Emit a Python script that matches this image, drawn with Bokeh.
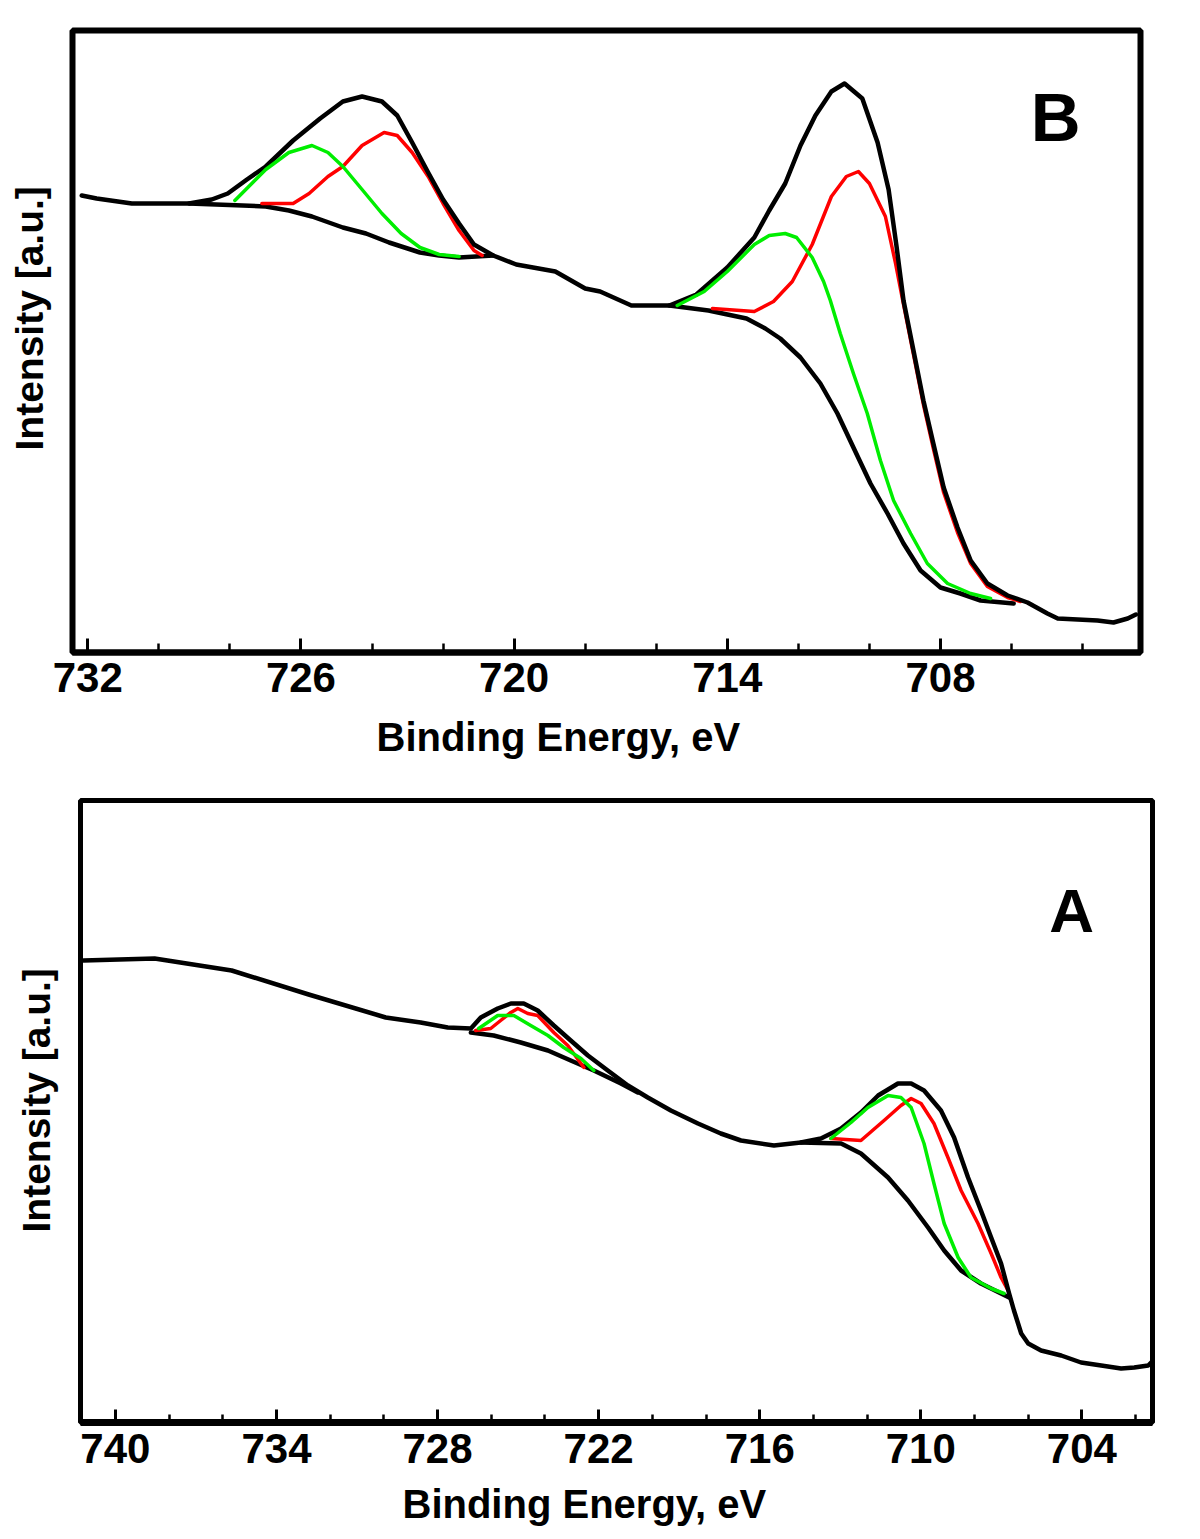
from bokeh.plotting import figure
from bokeh.models import Range1d, FixedTicker, Label, LinearAxis, Title
from bokeh.embed import file_html
from bokeh.resources import INLINE

# ---------------- Panel B data (binding energy eV, intensity a.u.) ----------------
B_total_eV = [732.17, 731.75, 730.76, 729.15, 728.51, 728.06, 727.52, 726.99, 726.22, 725.46,
              724.82, 724.28, 723.72, 723.29, 722.87, 722.42, 722.00, 721.55, 721.13, 720.59,
              719.94, 718.84, 718.00, 717.58, 716.70, 715.63, 714.87, 714.00, 713.24, 712.82,
              712.37, 711.94, 711.52, 711.07, 710.70, 710.20, 709.77, 709.46, 709.24, 709.04,
              708.76, 708.48, 708.20, 707.91, 707.52, 707.15, 706.68, 706.11, 705.55, 704.99,
              704.70, 703.58, 703.13, 702.73, 702.50]
B_total_I = [457, 454, 449, 449, 453, 459, 473, 486, 512, 534,
             551, 556, 551, 537, 510, 480, 453, 429, 408, 397,
             388, 381, 364, 361, 347, 347, 358, 385, 415, 442,
             469, 507, 537, 561, 569, 554, 510, 463, 407, 352,
             302, 252, 209, 165, 125, 92, 69, 57, 50, 39,
             34, 32, 30, 34, 38]

B_bg1_eV = [729.15, 726.99, 726.34, 725.69, 724.82, 724.17, 723.52, 722.65, 722.11, 721.55, 720.59]
B_bg1_I = [449, 446, 442, 436, 425, 419, 410, 400, 397, 395, 397]

B_bg2_eV = [715.63, 714.53, 713.46, 712.93, 712.51, 711.94, 711.38, 710.90, 710.45, 709.97,
            709.49, 709.04, 708.56, 708.00, 707.44, 706.87, 705.94]
B_bg2_I = [347, 342, 334, 324, 314, 295, 269, 239, 205, 169,
           139, 109, 82, 65, 59, 52, 49]

B_red1_eV = [727.10, 726.22, 725.77, 725.24, 724.82, 724.28, 723.66, 723.29, 722.87, 722.42,
             722.00, 721.55, 721.13, 720.90]
B_red1_I = [449, 449, 459, 476, 486, 507, 520, 517, 500, 476, 449, 422, 402, 397]

B_green1_eV = [727.86, 727.44, 726.99, 726.34, 725.69, 725.24, 724.82, 724.28, 723.72, 723.18,
               722.65, 722.11, 721.55]
B_green1_I = [452, 467, 483, 500, 507, 500, 486, 463, 439, 419, 405, 398, 396]

B_red2_eV = [714.42, 713.24, 712.70, 712.17, 711.61, 711.07, 710.65, 710.31, 710.00, 709.55,
             709.27, 709.04, 708.76, 708.48, 708.20, 707.91, 707.52, 707.15, 706.68, 706.11, 705.75]
B_red2_I = [344, 341, 351, 371, 408, 456, 476, 481, 469, 436,
            390, 348, 298, 248, 204, 160, 120, 89, 66, 55, 51]

B_green2_eV = [715.41, 714.65, 714.00, 713.24, 712.82, 712.37, 712.05, 711.61, 711.29, 711.10,
               710.82, 710.45, 710.06, 709.69, 709.32, 708.84, 708.37, 707.80, 707.15, 706.59]
B_green2_I = [347, 361, 381, 408, 417, 419, 415, 395, 371, 352,
              319, 279, 239, 192, 152, 119, 89, 69, 59, 54]

B_major_ticks = [732, 726, 720, 714, 708]
B_minor_ticks = [732, 730, 728, 726, 724, 722, 720, 718, 716, 714, 712, 710, 708, 706, 704]

# ---------------- Panel A data ----------------
A_total_eV = [741.19, 738.54, 735.67, 732.80, 729.93, 728.63, 727.62, 726.76, 726.39, 725.76,
              725.27, 724.79, 724.27, 723.67, 723.04, 722.40, 721.66, 720.91, 720.17, 719.31,
              718.30, 717.45, 716.70, 715.47, 714.47, 713.72, 712.97, 712.23, 711.59, 710.85,
              710.36, 709.88, 709.25, 708.76, 708.24, 707.76, 707.38, 707.01, 706.71, 706.53,
              706.26, 706.00, 705.52, 704.77, 704.03, 703.28, 702.54, 702.05, 701.53, 701.42]
A_total_I = [462, 464, 452, 428, 405, 400, 395, 394, 405, 414,
             419, 419, 412, 397, 382, 367, 352, 337, 325, 312,
             299, 289, 282, 277, 280, 284, 294, 310, 327, 339,
             339, 332, 312, 285, 245, 212, 185, 159, 129, 112,
             89, 79, 72, 67, 60, 57, 54, 55, 57, 60]

A_bg1_eV = [726.76, 725.91, 724.90, 723.89, 723.04, 722.18, 721.17, 720.54]
A_bg1_I = [390, 387, 380, 372, 362, 352, 339, 330]

A_bg2_eV = [714.47, 712.97, 712.23, 711.22, 710.48, 709.73, 709.13, 708.50, 707.76, 707.01, 706.71]
A_bg2_I = [280, 279, 269, 245, 222, 195, 172, 152, 139, 129, 125]

A_green1_eV = [726.47, 725.76, 725.16, 724.53, 723.89, 723.30, 722.66, 722.18]
A_green1_I = [394, 407, 407, 397, 387, 375, 364, 352]

A_red1_eV = [726.58, 726.02, 725.65, 725.27, 725.01, 724.64, 724.27, 723.67, 723.15, 722.55]
A_red1_I = [392, 394, 402, 410, 414, 409, 407, 390, 377, 355]

A_green2_eV = [713.35, 712.60, 711.97, 711.22, 710.74, 710.36, 709.88, 709.51, 709.13, 708.61,
               708.13, 707.38, 706.90]
A_green2_I = [284, 300, 315, 327, 325, 315, 279, 239, 199, 165, 145, 134, 129]

A_red2_eV = [713.35, 712.23, 711.37, 710.74, 710.36, 709.99, 709.51, 708.99, 708.50, 707.87,
             707.38, 707.01, 706.75]
A_red2_I = [284, 282, 302, 317, 324, 319, 299, 265, 232, 199, 169, 145, 132]

A_major_ticks = [740, 734, 728, 722, 716, 710, 704]
A_minor_ticks = [740, 738, 736, 734, 732, 730, 728, 726, 724, 722, 720, 718, 716, 714, 712,
                 710, 708, 706, 704, 702]

X_LABEL = "Binding Energy, eV"
Y_LABEL = "Intensity [a.u.]"

FONT = "Liberation Sans"
BLACK = "#000000"
RED = "#ff0000"
GREEN = "#00ee00"


def spacer_axis(ax, gap, at):
    """An axis that draws nothing and only reserves `gap` pixels (one invisible tick)."""
    ax.ticker = FixedTicker(ticks=[at], minor_ticks=[])
    ax.major_label_overrides = {at: ""}
    ax.axis_line_color = None
    ax.major_tick_line_color = None
    ax.minor_tick_line_color = None
    ax.major_tick_out = gap
    ax.major_tick_in = 0
    ax.minor_tick_out = 0
    ax.minor_tick_in = 0
    ax.major_label_standoff = 0
    ax.major_label_text_font_size = "1px"


def make_panel(width, height, xr, border, ticks, minor, outline_w, axis_w, tick_in, minor_in,
               label_standoff, xgap, xoffset, ygap, yoffset):
    left, right, top, bottom = border
    p = figure(width=width, height=height, x_range=Range1d(*xr), y_range=Range1d(0, 622),
               output_backend="svg", toolbar_location=None,
               min_border_left=left, min_border_right=right,
               min_border_top=top, min_border_bottom=bottom)
    p.xgrid.visible = False
    p.ygrid.visible = False
    p.outline_line_color = BLACK
    p.outline_line_width = outline_w
    p.outline_line_alpha = 1.0
    p.background_fill_color = "white"
    p.border_fill_color = "white"

    ax = p.xaxis[0]
    ax.ticker = FixedTicker(ticks=ticks, minor_ticks=minor)
    ax.axis_line_width = axis_w
    ax.axis_line_color = BLACK
    ax.major_tick_in = tick_in
    ax.major_tick_out = 0
    ax.minor_tick_in = minor_in
    ax.minor_tick_out = 0
    ax.major_tick_line_width = 3
    ax.minor_tick_line_width = 2.5
    ax.major_tick_line_color = BLACK
    ax.minor_tick_line_color = BLACK
    ax.major_label_text_font = FONT
    ax.major_label_text_font_style = "bold"
    ax.major_label_text_font_size = "42px"
    ax.major_label_text_color = BLACK
    ax.major_label_standoff = label_standoff

    # gap between tick labels and the x title, then the title itself
    sp = LinearAxis()
    spacer_axis(sp, xgap, ticks[2])
    p.add_layout(sp, "below")
    p.add_layout(Title(text=X_LABEL, align="left", offset=xoffset, vertical_align="top",
                       standoff=0, text_font=FONT, text_font_style="bold",
                       text_font_size="40px", text_color=BLACK), "below")

    # y side: the axis only keeps a gap; the title carries the text
    spacer_axis(p.yaxis[0], ygap, 300)
    p.add_layout(Title(text=Y_LABEL, align="left", offset=yoffset, vertical_align="bottom",
                       standoff=0, text_font=FONT, text_font_style="bold",
                       text_font_size="39px", text_color=BLACK), "left")
    return p


def draw(p, xs, ys, color, w):
    p.line(xs, ys, line_color=color, line_width=w, line_join="round", line_cap="round")


def tag(p, x, y, s, size):
    p.add_layout(Label(x=x, y=y, text=s, text_font=FONT, text_font_style="bold",
                       text_font_size=size, text_color=BLACK, text_align="left",
                       text_baseline="middle"))


# ---------------- Panel B ----------------
pB = make_panel(1200, 770, (732.43, 702.37), (72, 60, 30, 118),
                B_major_ticks, B_minor_ticks, 6, 6, 14, 9, 10,
                20, 304, 22, 202)
draw(pB, B_bg1_eV, B_bg1_I, BLACK, 4.5)
draw(pB, B_bg2_eV, B_bg2_I, BLACK, 4.5)
draw(pB, B_red1_eV, B_red1_I, RED, 3.5)
draw(pB, B_red2_eV, B_red2_I, RED, 3.5)
draw(pB, B_total_eV, B_total_I, BLACK, 4.5)
draw(pB, B_green1_eV, B_green1_I, GREEN, 3.5)
draw(pB, B_green2_eV, B_green2_I, GREEN, 3.5)
tag(pB, 705.46, 535, "B", "69px")

# ---------------- Panel A ----------------
pA = make_panel(1200, 767, (741.3, 701.37), (80, 48, 30, 115),
                A_major_ticks, A_minor_ticks, 5, 7, 13, 8, 11,
                16, 322, 23, 190)
draw(pA, A_bg1_eV, A_bg1_I, BLACK, 4.5)
draw(pA, A_bg2_eV, A_bg2_I, BLACK, 4.5)
draw(pA, A_red1_eV, A_red1_I, RED, 3.5)
draw(pA, A_red2_eV, A_red2_I, RED, 3.5)
draw(pA, A_total_eV, A_total_I, BLACK, 4.5)
draw(pA, A_green1_eV, A_green1_I, GREEN, 3.5)
draw(pA, A_green2_eV, A_green2_I, GREEN, 3.5)
tag(pA, 705.22, 512, "A", "62px")

open("out.html", "w").write(file_html([pB, pA], INLINE))
